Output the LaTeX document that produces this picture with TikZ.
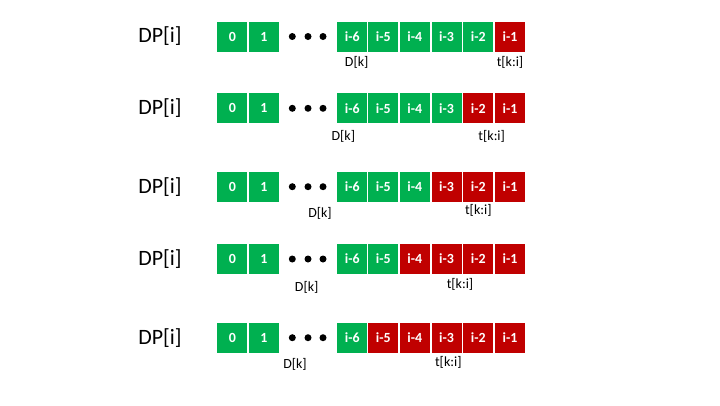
\documentclass[tikz,border=0pt]{standalone}
\usepackage{fontspec}
\setmainfont{Carlito}
\definecolor{okgreen}{HTML}{00B050}
\definecolor{okred}{HTML}{C00000}
\begin{document}
\begin{tikzpicture}[x=1bp,y=-1bp,
  cell/.style={minimum width=30bp, minimum height=30bp, inner sep=0pt, text=white,
    font=\fontsize{14}{14}\selectfont\bfseries},
  rowlabel/.style={inner sep=0pt, font=\fontsize{22}{22}\selectfont},
  sublabel/.style={inner sep=0pt, font=\fontsize{14}{14}\selectfont},
  dotmark/.style={circle, fill=black, inner sep=0pt, minimum size=7bp}]
\useasboundingbox (0,0) rectangle (720,405);
\foreach \row/\y/\nred/\dx/\dy/\tx/\ty in {
  1/36.5/1/356.7/62.7/510/62.7,
  2/108.3/2/343.3/136.2/491.7/136.2,
  3/186.7/3/320/213.8/478.3/210,
  4/259/4/306.7/287.5/460/284.7,
  5/337.7/5/295/364.8/448.3/362.8}{
  \node[rowlabel] (dp\row) at (160,\y) {DP[i]};
  \node[cell, fill=okgreen] (c\row-0) at (232.3,\y) {0};
  \node[cell, fill=okgreen] (c\row-1) at (264,\y) {1};
  \node[dotmark] (d\row-1) at (292.3,\y) {};
  \node[dotmark] (d\row-2) at (308,\y) {};
  \node[dotmark] (d\row-3) at (323,\y) {};
  \foreach \k/\x in {6/352.3,5/383.3,4/414.8,3/446.5,2/478.3,1/510}{
    \ifnum\k>\nred \def\cc{okgreen}\else\def\cc{okred}\fi
    \node[cell, fill=\cc] (c\row-i\k) at (\x,\y) {i-\k};
  }
  \node[sublabel] (dk\row) at (\dx,\dy) {D[k]};
  \node[sublabel] (tk\row) at (\tx,\ty) {t[k:i]};
}
\end{tikzpicture}
\end{document}
